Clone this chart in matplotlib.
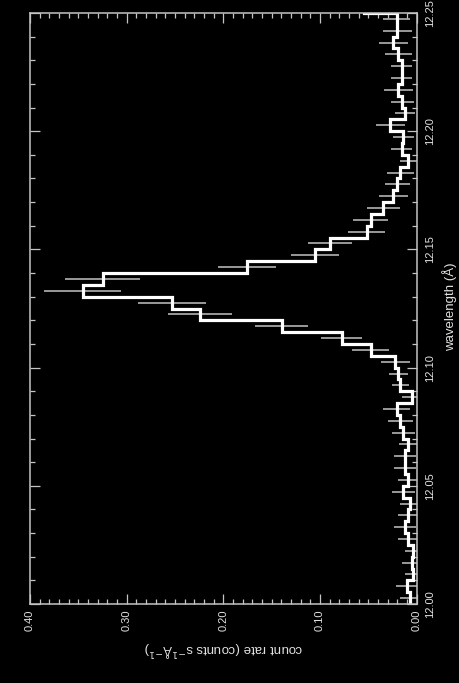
import numpy as np
import matplotlib
matplotlib.use('Agg')
import matplotlib.pyplot as plt
from matplotlib.ticker import MultipleLocator

# spectrum, 0.005 A bins starting at 12.000 A (last bin runs past the frame)
bin_start = 12.000
bin_width = 0.005
rate = [0.0069, 0.0103, 0.0034, 0.0052, 0.0034, 0.0087, 0.0121, 0.0087, 0.0069, 0.0138,
        0.0087, 0.0121, 0.0121, 0.0087, 0.0138, 0.0172, 0.0207, 0.0050, 0.0170, 0.0190,
        0.0224, 0.0476, 0.0776, 0.1397, 0.2240, 0.2534, 0.3455, 0.3250, 0.1760, 0.1050,
        0.0897, 0.0517, 0.0476, 0.0345, 0.0240, 0.0200, 0.0170, 0.0087, 0.0155, 0.0138,
        0.0276, 0.0120, 0.0148, 0.0190, 0.0155, 0.0155, 0.0190, 0.0240, 0.0200, 0.0207,
        0.0550]
rate_err = [0.010, 0.011, 0.009, 0.010, 0.009, 0.011, 0.011, 0.011, 0.010, 0.012,
            0.011, 0.011, 0.011, 0.010, 0.012, 0.013, 0.014, 0.010, 0.009, 0.010,
            0.015, 0.019, 0.0215, 0.0276, 0.033, 0.035, 0.040, 0.0386, 0.030, 0.025,
            0.023, 0.019, 0.018, 0.017, 0.015, 0.013, 0.014, 0.009, 0.011, 0.011,
            0.015, 0.010, 0.012, 0.015, 0.011, 0.011, 0.014, 0.015, 0.015, 0.014,
            0.020]

rate = np.array(rate)
rate_err = np.array(rate_err)
edges = bin_start + bin_width * np.arange(len(rate) + 1)
centers = 0.5 * (edges[:-1] + edges[1:])

plt.rcParams['font.family'] = ['Liberation Sans', 'DejaVu Sans']
fg = '#c4c4c4'
txt = '#e2e2e2'

fig = plt.figure(figsize=(4.6, 6.83), dpi=100, facecolor='black')
ax = fig.add_axes([30/460, (683-604)/683, (416.7-30)/460, (604-13)/683])
ax.set_facecolor('black')

# error bars first, histogram on top
ax.errorbar(rate, centers, xerr=rate_err, fmt='none', ecolor='#b4b4b4',
            elinewidth=1.2, capsize=0, zorder=1)
ax.stairs(rate, edges, orientation='horizontal', baseline=None,
          color='white', linewidth=2.3, zorder=2)

ax.set_xlim(0.40, 0.00)
ax.set_ylim(12.00, 12.25)

ax.xaxis.set_major_locator(MultipleLocator(0.1))
ax.xaxis.set_minor_locator(MultipleLocator(0.01))
ax.yaxis.set_major_locator(MultipleLocator(0.05))
ax.yaxis.set_minor_locator(MultipleLocator(0.01))
ax.xaxis.set_major_formatter(lambda v, p: '%.2f' % v)
ax.yaxis.set_major_formatter(lambda v, p: '%.2f' % v)

for s in ax.spines.values():
    s.set_color(fg)
    s.set_linewidth(1.1)

ax.tick_params(which='both', direction='in', top=True, bottom=True, left=True, right=True,
               color=fg, width=0.9, labelcolor=txt, labelsize=8)
ax.tick_params(which='major', length=7)
ax.tick_params(which='minor', length=3.5)
ax.tick_params(axis='x', labelrotation=90, pad=4)
ax.tick_params(axis='y', labelleft=False, labelright=True, labelrotation=90, pad=6)
for lab in ax.get_yticklabels():
    lab.set_va('center')

fig.text(450/460, 1 - 307/683, 'wavelength (Å)', rotation=90, ha='center', va='center',
         color=txt, fontsize=9.5)
fig.text(223/460, 1 - 650/683, 'count rate (counts s$^{-1}$Å$^{-1}$)', rotation=180,
         ha='center', va='center', color=txt, fontsize=9.5)

fig.savefig('out.png', dpi=100, facecolor='black')
